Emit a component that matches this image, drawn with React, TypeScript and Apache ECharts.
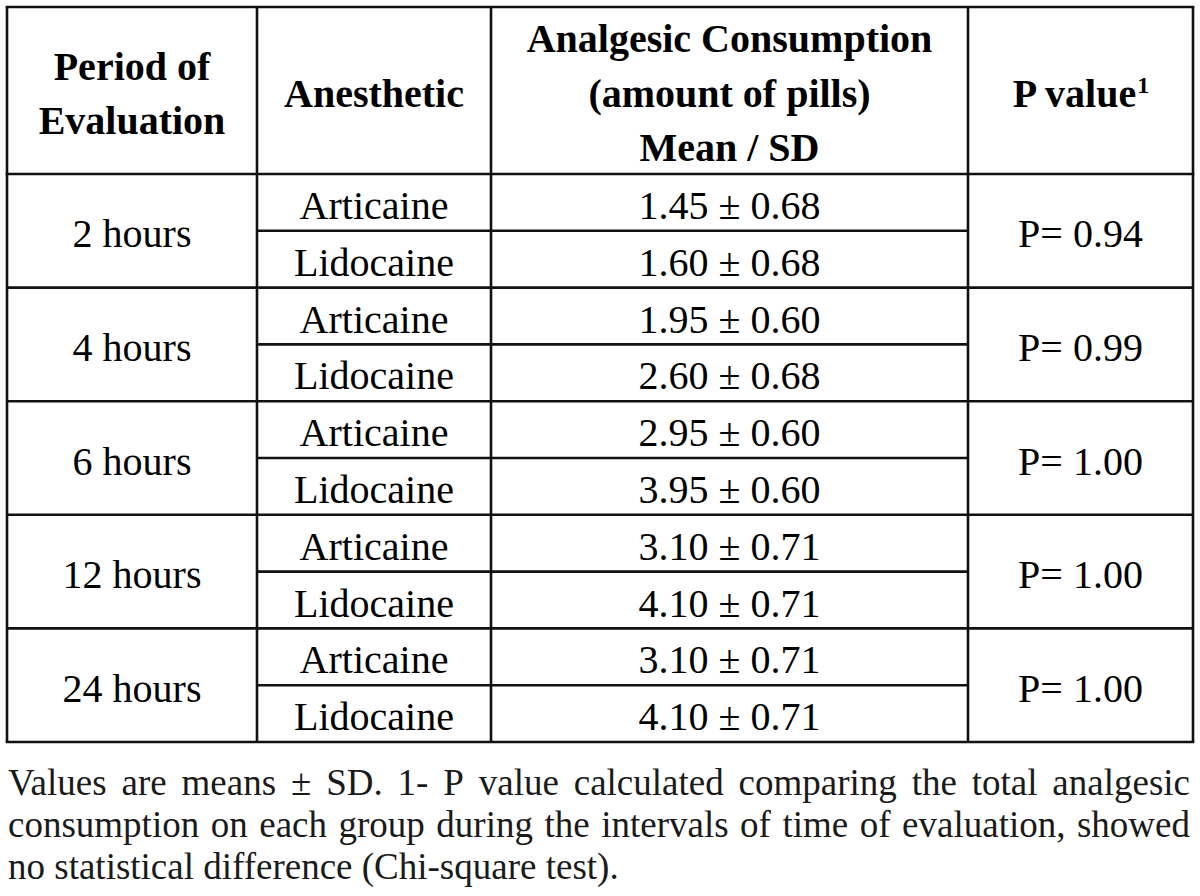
import React, { useEffect, useRef } from "react";
import * as echarts from "echarts";

const headers = ["Period of\nEvaluation", "Anesthetic", "Analgesic Consumption\n(amount of pills)\nMean / SD"];
const pHeader = "P value";
const periods = ["2 hours", "4 hours", "6 hours", "12 hours", "24 hours"];
const anesthetics = ["Articaine", "Lidocaine"];
const articaineMean = [1.45, 1.95, 2.95, 3.1, 3.1];
const articaineSD = [0.68, 0.6, 0.6, 0.71, 0.71];
const lidocaineMean = [1.6, 2.6, 3.95, 4.1, 4.1];
const lidocaineSD = [0.68, 0.68, 0.6, 0.71, 0.71];
const pValues = [0.94, 0.99, 1.0, 1.0, 1.0];
const footLines = [
  "Values are means ± SD. 1- P value calculated comparing the total analgesic",
  "consumption on each group during the intervals of time of evaluation, showed",
  "no statistical difference (Chi-square test).",
];

const FAMILY = "Liberation Serif";

export default function App() {
  const ref = useRef<HTMLDivElement>(null);
  useEffect(() => {
    document.body.style.margin = "0";
    const chart = echarts.init(ref.current!, null, { renderer: "svg" });
    const X = [7, 257, 491, 968, 1193];
    const top = 7;
    const headBottom = 174;
    const bottom = 742;
    const subH = (bottom - headBottom) / 10;
    const lw = 2.6;
    const col = "#111";
    const els: any[] = [];
    const hline = (x1: number, x2: number, y: number) =>
      els.push({ type: "line", shape: { x1, y1: y, x2, y2: y }, style: { stroke: col, lineWidth: lw } });
    const vline = (x: number, y1: number, y2: number) =>
      els.push({ type: "line", shape: { x1: x, y1, x2: x, y2 }, style: { stroke: col, lineWidth: lw } });
    hline(X[0] - lw / 2, X[4] + lw / 2, top);
    hline(X[0] - lw / 2, X[4] + lw / 2, headBottom);
    hline(X[0] - lw / 2, X[4] + lw / 2, bottom);
    for (let g = 1; g < 5; g++) hline(X[0], X[4], headBottom + g * 2 * subH);
    for (let g = 0; g < 5; g++) hline(X[1], X[3], headBottom + (g * 2 + 1) * subH);
    X.forEach((x) => vline(x, top, bottom));
    const txt = (x: number, y: number, text: string, size: number, bold = false, lh = 54) =>
      els.push({
        type: "text",
        x,
        y,
        style: {
          text,
          fill: "#000",
          fontFamily: FAMILY,
          fontSize: size,
          fontWeight: bold ? "bold" : "normal",
          align: "center",
          verticalAlign: "middle",
          lineHeight: lh,
        },
      });
    const cx = (i: number) => (X[i] + X[i + 1]) / 2;
    const hy = 93;
    txt(cx(0), hy, headers[0], 40, true, 54);
    txt(cx(1), hy, headers[1], 40, true, 54);
    txt(cx(2), hy, headers[2], 40, true, 54.5);
    els.push({
      type: "text",
      x: cx(3),
      y: hy,
      style: {
        text: `{a|${pHeader}}{s|1}`,
        align: "center",
        verticalAlign: "middle",
        rich: {
          a: { fontFamily: FAMILY, fontSize: 40, fontWeight: "bold", fill: "#000" },
          s: { fontFamily: FAMILY, fontSize: 24, fontWeight: "bold", fill: "#000", verticalAlign: "top", padding: [0, 0, 14, 0] },
        },
      },
    });
    const fmt = (m: number, s: number) => `${m.toFixed(2)} ± ${s.toFixed(2)}`;
    for (let g = 0; g < 5; g++) {
      const gy = headBottom + g * 2 * subH;
      txt(cx(0), gy + subH + 3, periods[g], 40);
      txt(cx(3), gy + subH + 3, `P= ${pValues[g].toFixed(2)}`, 40);
      txt(cx(1), gy + subH / 2 + 3, anesthetics[0], 40);
      txt(cx(1), gy + subH * 1.5 + 3, anesthetics[1], 40);
      txt(cx(2), gy + subH / 2 + 3, fmt(articaineMean[g], articaineSD[g]), 40);
      txt(cx(2), gy + subH * 1.5 + 3, fmt(lidocaineMean[g], lidocaineSD[g]), 40);
    }
    // footnote, justified
    const fsize = 37;
    const canvas = document.createElement("canvas");
    const ctx = canvas.getContext("2d")!;
    ctx.font = `${fsize}px "${FAMILY}"`;
    const fx0 = 8;
    const fx1 = 1190;
    const fy = [782, 824, 866];
    footLines.forEach((line, li) => {
      const words = line.split(" ");
      const widths = words.map((w) => ctx.measureText(w).width);
      const total = widths.reduce((a, b) => a + b, 0);
      const justify = li < footLines.length - 1;
      const gap = justify ? (fx1 - fx0 - total) / (words.length - 1) : ctx.measureText(" ").width;
      let x = fx0;
      words.forEach((w, i) => {
        els.push({
          type: "text",
          x,
          y: fy[li],
          style: { text: w, fill: "#1a1a1a", fontFamily: FAMILY, fontSize: fsize, align: "left", verticalAlign: "middle" },
        });
        x += widths[i] + gap;
      });
    });
    chart.setOption({ animation: false, backgroundColor: "#fff", graphic: { elements: els } });
    return () => chart.dispose();
  }, []);
  return <div ref={ref} style={{ width: 1200, height: 896, position: "absolute", left: 0, top: 0 }} />;
}
